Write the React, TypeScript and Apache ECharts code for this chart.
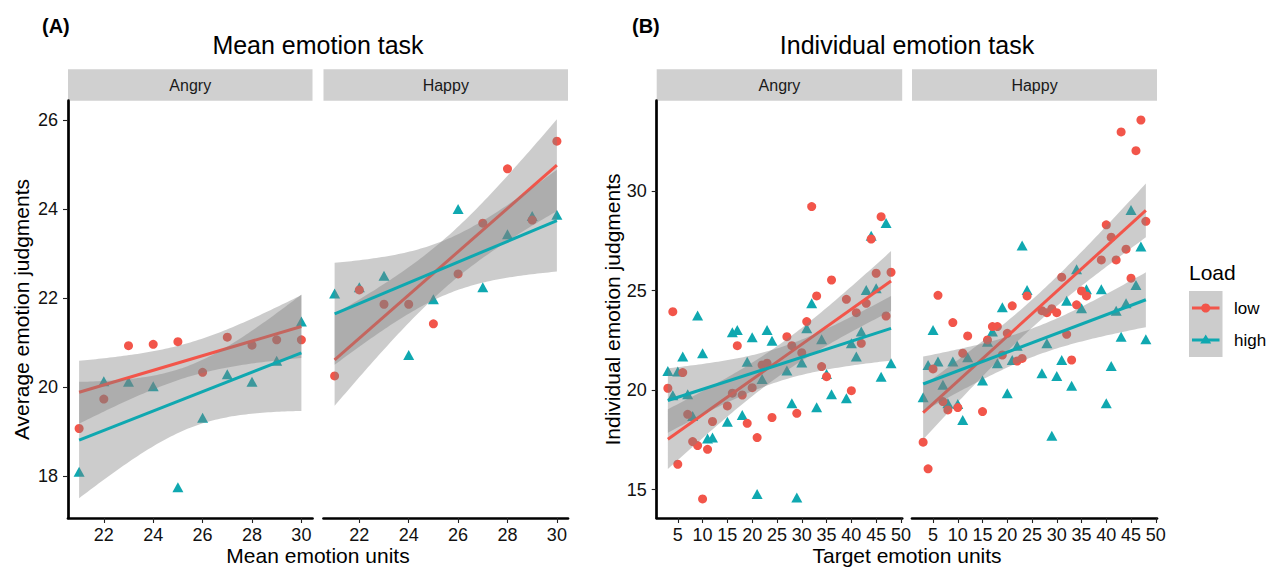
import React, { useEffect, useRef } from "react";
import * as echarts from "echarts";

// ---------------- data ----------------
const meanUnits = [21, 22, 23, 24, 25, 26, 27, 28, 29, 30];
const meanAngryLow = [19.07, 19.73, 20.93, 20.96, 21.02, 20.33, 21.12, 20.94, 21.06, 21.06];
const meanAngryHigh = [18.1, 20.13, 20.12, 20.02, 17.75, 19.31, 20.29, 20.12, 20.59, 21.47];
const meanHappyLow = [20.25, 22.18, 21.86, 21.86, 21.42, 22.54, 23.68, 24.9, 23.75, 25.52];
const meanHappyHigh = [22.1, 22.24, 22.5, 20.72, 21.97, 24.0, 22.24, 23.43, 23.84, 23.87];

const targetUnits = [3, 4, 5, 6, 7, 8, 9, 10, 11, 12, 15, 16, 17, 18, 19, 20, 21, 22, 23, 24, 27, 28, 29, 30, 31, 32, 33, 34, 35, 36, 39, 40, 41, 42, 43, 44, 45, 46, 47, 48];
const indivAngryLow = [20.1, 23.95, 16.28, 20.89, 18.79, 17.42, 17.22, 14.54, 17.03, 18.43, 19.21, 19.85, 22.24, 19.76, 18.34, 20.13, 17.62, 21.27, 21.36, 18.63, 22.69, 22.24, 18.84, 21.89, 23.45, 29.23, 24.74, 21.19, 20.68, 25.54, 24.57, 19.98, 23.9, 22.36, 24.37, 27.6, 25.88, 28.72, 23.73, 25.93];
const indivAngryHigh = [20.97, 19.75, 20.94, 21.69, 19.8, 18.71, 23.75, 21.86, 17.58, 17.63, 18.42, 22.91, 23.03, 18.76, 21.43, 22.66, 14.78, 20.57, 23.03, 22.49, 20.99, 19.35, 14.61, 21.39, 23.12, 24.37, 19.15, 22.56, 20.82, 19.8, 19.6, 22.36, 21.69, 22.95, 25.04, 27.76, 25.13, 20.68, 28.4, 21.36];
const indivHappyLow = [17.39, 16.05, 21.07, 24.77, 19.43, 19.01, 23.4, 19.13, 21.86, 22.73, 18.93, 22.53, 23.2, 23.2, 21.77, 22.86, 24.24, 21.47, 21.6, 24.74, 24.0, 23.9, 24.1, 23.9, 25.68, 22.81, 21.52, 24.29, 24.99, 24.74, 26.55, 28.31, 27.69, 26.55, 32.98, 27.09, 25.63, 32.04, 33.58, 28.49];
const indivHappyHigh = [19.65, 21.27, 23.03, 21.44, 20.27, 19.35, 21.44, 19.31, 18.51, 21.66, 20.49, 22.44, 22.95, 21.36, 24.17, 19.85, 21.52, 22.24, 27.27, 25.04, 20.85, 22.36, 17.71, 20.71, 21.52, 24.5, 20.22, 26.08, 24.12, 25.07, 25.07, 19.35, 21.22, 24.0, 22.69, 24.37, 29.06, 25.29, 27.22, 22.56];

const meanTicksX = [22, 24, 26, 28, 30];
const meanTicksY = [18, 20, 22, 24, 26];
const targetTicksX = [5, 10, 15, 20, 25, 30, 35, 40, 45, 50];
const targetTicksY = [15, 20, 25, 30];

const facetNames = ["Angry", "Happy"];
const panelTitles = ["Mean emotion task", "Individual emotion task"];
const panelTags = ["(A)", "(B)"];
const xTitles = ["Mean emotion units", "Target emotion units"];
const yTitles = ["Average emotion judgments", "Individual emotion judgments"];
const loadLevels = ["low", "high"];
const legendTitle = "Load";

// ---------------- styling ----------------
const FONT = "'Liberation Sans', Arial, Helvetica, sans-serif";
const RED = "#F2554A";
const TEAL = "#0FA8B0";
const BAND = "rgba(128,128,128,0.4)";
const STRIP = "#D0D0D0";

// ---------------- stats (lm with 95% CI, like geom_smooth) ----------------
function tQuant(nu: number) {
  const z = 1.959964;
  const z3 = z ** 3, z5 = z ** 5, z7 = z ** 7, z9 = z ** 9;
  const g1 = (z3 + z) / 4;
  const g2 = (5 * z5 + 16 * z3 + 3 * z) / 96;
  const g3 = (3 * z7 + 19 * z5 + 17 * z3 - 15 * z) / 384;
  const g4 = (79 * z9 + 776 * z7 + 1482 * z5 - 1920 * z3 - 945 * z) / 92160;
  return z + g1 / nu + g2 / nu ** 2 + g3 / nu ** 3 + g4 / nu ** 4;
}

function fit(xs: number[], ys: number[]) {
  const n = xs.length;
  const xb = xs.reduce((a, b) => a + b, 0) / n;
  const yb = ys.reduce((a, b) => a + b, 0) / n;
  let sxx = 0, sxy = 0;
  for (let i = 0; i < n; i++) {
    sxx += (xs[i] - xb) ** 2;
    sxy += (xs[i] - xb) * (ys[i] - yb);
  }
  const b = sxy / sxx;
  const a = yb - b * xb;
  let ssr = 0;
  for (let i = 0; i < n; i++) ssr += (ys[i] - (a + b * xs[i])) ** 2;
  const s = Math.sqrt(ssr / (n - 2));
  const t = tQuant(n - 2);
  const xmin = Math.min(...xs), xmax = Math.max(...xs);
  const band: number[][] = [];
  const N = 80;
  for (let k = 0; k <= N; k++) {
    const x = xmin + ((xmax - xmin) * k) / N;
    const yh = a + b * x;
    const se = s * Math.sqrt(1 / n + (x - xb) ** 2 / sxx);
    band.push([x, yh - t * se, yh + t * se]);
  }
  const line = [
    [xmin, a + b * xmin],
    [xmax, a + b * xmax],
  ];
  return { band, line };
}

const TOP = 100.7;
const H = 417.3;

const facets = [
  { left: 68, width: 244.5, xmin: 20.55, xmax: 30.45, ymin: 17.06, ymax: 26.43, xt: meanTicksX, yt: meanTicksY, showY: true, x: meanUnits, xh: meanUnits, low: meanAngryLow, high: meanAngryHigh, name: facetNames[0] },
  { left: 323.5, width: 244.5, xmin: 20.55, xmax: 30.45, ymin: 17.06, ymax: 26.43, xt: meanTicksX, yt: meanTicksY, showY: false, x: meanUnits, xh: meanUnits, low: meanHappyLow, high: meanHappyHigh, name: facetNames[1] },
  { left: 656.7, width: 245.5, xmin: 0.75, xmax: 50.25, ymin: 13.58, ymax: 34.55, xt: targetTicksX, yt: targetTicksY, showY: true, x: targetUnits, xh: targetUnits, low: indivAngryLow, high: indivAngryHigh, name: facetNames[0] },
  { left: 912, width: 245, xmin: 0.75, xmax: 50.25, ymin: 13.58, ymax: 34.55, xt: targetTicksX, yt: targetTicksY, showY: false, x: targetUnits, xh: targetUnits, low: indivHappyLow, high: indivHappyHigh, name: facetNames[1] },
];

function bandSeries(f: number, band: number[][], z: number) {
  return {
    type: "custom",
    xAxisIndex: f,
    yAxisIndex: f,
    silent: true,
    z,
    data: band,
    encode: { x: 0, y: [1, 2] },
    renderItem: (params: any, api: any) => {
      if (params.dataIndex !== 0) return null;
      const upper = band.map((p) => api.coord([p[0], p[2]]));
      const lower = band.slice().reverse().map((p) => api.coord([p[0], p[1]]));
      return {
        type: "polygon",
        shape: { points: upper.concat(lower) },
        style: { fill: BAND },
      };
    },
  };
}

function txt(text: string, x: number, y: number, size: number, extra: any = {}) {
  return {
    type: "text",
    x,
    y,
    silent: true,
    rotation: extra.rotation || 0,
    style: {
      text,
      fontSize: size,
      fontFamily: FONT,
      fontWeight: extra.bold ? "bold" : "normal",
      fill: extra.fill || "#000",
      align: extra.align || "center",
      verticalAlign: "middle",
      textAlign: extra.align || "center",
      textVerticalAlign: "middle",
    },
  };
}

export default function App() {
  const ref = useRef<HTMLDivElement>(null);
  useEffect(() => {
    if (!ref.current) return;
    const chart = echarts.init(ref.current, null, { renderer: "svg" });

    const grid: any[] = [];
    const xAxis: any[] = [];
    const yAxis: any[] = [];
    const series: any[] = [];
    const graphic: any[] = [];

    facets.forEach((fc, f) => {
      grid.push({ left: fc.left, top: TOP, width: fc.width, height: H, containLabel: false });
      xAxis.push({
        type: "value",
        gridIndex: f,
        min: fc.xmin,
        max: fc.xmax,
        splitLine: { show: false },
        axisLine: { show: true, onZero: false, lineStyle: { color: "#000", width: 2.7 } },
        axisTick: { show: true, length: 5, customValues: fc.xt, lineStyle: { color: "#222", width: 1.1 } },
        axisLabel: { show: true, customValues: fc.xt, fontSize: 18, color: "#111", margin: 8, fontFamily: FONT },
      });
      yAxis.push({
        type: "value",
        gridIndex: f,
        min: fc.ymin,
        max: fc.ymax,
        splitLine: { show: false },
        axisLine: { show: fc.showY, onZero: false, lineStyle: { color: "#000", width: 2.7 } },
        axisTick: { show: fc.showY, length: 5, customValues: fc.yt, lineStyle: { color: "#222", width: 1.1 } },
        axisLabel: { show: fc.showY, customValues: fc.yt, fontSize: 18, color: "#111", margin: 10, fontFamily: FONT },
      });

      const lowFit = fit(fc.x, fc.low);
      const highFit = fit(fc.xh, fc.high);

      series.push({
        type: "scatter",
        name: loadLevels[1],
        xAxisIndex: f,
        yAxisIndex: f,
        symbol: "triangle",
        symbolSize: [11, 10],
        itemStyle: { color: TEAL, opacity: 1 },
        z: 2,
        data: fc.xh.map((x, i) => [x, fc.high[i]]),
      });
      series.push({
        type: "scatter",
        name: loadLevels[0],
        xAxisIndex: f,
        yAxisIndex: f,
        symbol: "circle",
        symbolSize: 9,
        itemStyle: { color: RED, opacity: 1 },
        z: 2,
        data: fc.x.map((x, i) => [x, fc.low[i]]),
      });
      series.push(bandSeries(f, lowFit.band, 3));
      series.push({
        type: "line",
        xAxisIndex: f,
        yAxisIndex: f,
        symbol: "none",
        silent: true,
        z: 4,
        lineStyle: { color: RED, width: 3 },
        data: lowFit.line,
      });
      series.push(bandSeries(f, highFit.band, 5));
      series.push({
        type: "line",
        xAxisIndex: f,
        yAxisIndex: f,
        symbol: "none",
        silent: true,
        z: 6,
        lineStyle: { color: TEAL, width: 3 },
        data: highFit.line,
      });

      // strip
      graphic.push({ type: "rect", silent: true, shape: { x: fc.left, y: 69.3, width: fc.width, height: 31.4 }, style: { fill: STRIP } });
      graphic.push(txt(fc.name, fc.left + fc.width / 2, 85, 16, { fill: "#1a1a1a" }));
    });

    // panel titles, tags, axis titles
    const centers = [318, 907];
    centers.forEach((cx, p) => {
      graphic.push(txt(panelTitles[p], cx, 45, 25));
      graphic.push(txt(xTitles[p], cx, 555, 21));
    });
    graphic.push(txt(panelTags[0], 42, 26, 20, { bold: true, align: "left" }));
    graphic.push(txt(panelTags[1], 632, 26, 20, { bold: true, align: "left" }));
    graphic.push(txt(yTitles[0], 21, 309.5, 21, { rotation: Math.PI / 2 }));
    graphic.push(txt(yTitles[1], 612, 309.5, 21, { rotation: Math.PI / 2 }));

    // legend
    graphic.push(txt(legendTitle, 1189, 272, 21, { align: "left" }));
    graphic.push({ type: "rect", silent: true, shape: { x: 1189, y: 291, width: 33.5, height: 66 }, style: { fill: "#CCCCCC" } });
    graphic.push({ type: "line", silent: true, shape: { x1: 1192, y1: 308, x2: 1219.5, y2: 308 }, style: { stroke: RED, lineWidth: 3 } });
    graphic.push({ type: "circle", silent: true, shape: { cx: 1205.7, cy: 308, r: 4.5 }, style: { fill: RED } });
    graphic.push({ type: "line", silent: true, shape: { x1: 1192, y1: 340, x2: 1219.5, y2: 340 }, style: { stroke: TEAL, lineWidth: 3 } });
    graphic.push({ type: "polygon", silent: true, shape: { points: [[1205.7, 334.5], [1211.2, 343.5], [1200.2, 343.5]] }, style: { fill: TEAL } });
    graphic.push(txt(loadLevels[0], 1234, 308, 17, { align: "left" }));
    graphic.push(txt(loadLevels[1], 1234, 340, 17, { align: "left" }));

    chart.setOption({
      animation: false,
      backgroundColor: "#fff",
      textStyle: { fontFamily: FONT },
      grid,
      xAxis,
      yAxis,
      series,
      graphic: { elements: graphic },
    });
    return () => chart.dispose();
  }, []);

  return (
    <div
      ref={ref}
      style={{ position: "absolute", left: 0, top: 0, width: 1273, height: 568, background: "#fff" }}
    />
  );
}
